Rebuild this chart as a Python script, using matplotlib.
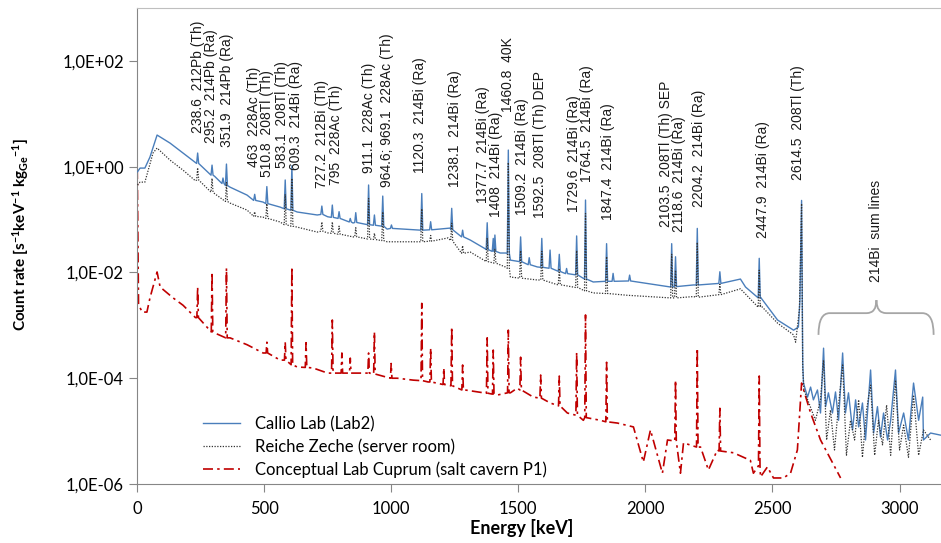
import numpy as np
import matplotlib
matplotlib.use("Agg")
import matplotlib.pyplot as plt
from matplotlib.path import Path
from matplotlib.patches import PathPatch
from matplotlib.ticker import FixedLocator, FuncFormatter, NullLocator

plt.rcParams['font.family'] = ['Lato', 'DejaVu Sans']
plt.rcParams['mathtext.fontset'] = 'custom'
plt.rcParams['mathtext.rm'] = 'Lato'
plt.rcParams['mathtext.bf'] = 'Lato:bold'
plt.rcParams['mathtext.default'] = 'bf'

# --- Callio Lab (Lab2): continuum knots [keV], count rate
callio_e = [2, 12, 31, 51, 79, 130, 181, 230, 305, 366, 433, 496, 563, 630, 709, 750,
            850, 984, 1114, 1232, 1244, 1311, 1370, 1429, 1450, 1469, 1575, 1670, 1795,
            1929, 2098, 2189, 2374, 2394, 2453, 2520, 2583, 2602, 2608, 2614.5, 2619,
            2622, 2638, 2650, 2661, 2677, 2689, 2701, 2709, 2720, 2736, 2748, 2760, 2776,
            2787, 2799, 2815, 2827, 2839, 2854, 2866, 2886, 2898, 2913, 2925, 2937, 2953,
            2965, 2984, 2996, 3016, 3035, 3055, 3075, 3091, 3094, 3122, 3161]
callio_v = [0.8, 0.94, 0.94, 1.52, 3.96, 2.79, 1.81, 1.2, 0.66, 0.41, 0.29, 0.214, 0.172,
            0.139, 0.122, 0.113, 0.086, 0.066, 0.063, 0.069, 0.063, 0.041, 0.028, 0.0233,
            0.0233, 0.0171, 0.0127, 0.0102, 0.0066, 0.0069, 0.0053, 0.0058, 0.0075, 0.0053,
            0.0034, 0.00126, 0.00081, 0.00093, 0.003, 0.23, 0.0002, 8.1e-5, 4.4e-5, 6.8e-5,
            3.9e-5, 6.0e-5, 2.2e-5, 3.7e-4, 2.9e-5, 5.3e-5, 2.2e-5, 5.5e-5, 1.6e-5, 3.0e-4,
            2.2e-5, 5.3e-5, 1.05e-5, 3.9e-5, 1.2e-5, 3.4e-5, 6.8e-6, 1.43e-4, 9.2e-6, 2.9e-5,
            7.7e-6, 2.2e-5, 6.8e-6, 1.6e-5, 1.43e-4, 9.2e-6, 2.2e-5, 6.8e-6, 8.1e-5, 1.6e-5,
            4.4e-5, 6.8e-6, 9.2e-6, 8.4e-6]
# peaks: energy, top, base
callio_pk_e = [238.6, 295.2, 338.3, 351.9, 463, 510.8, 583.1, 609.3, 727.2, 768.4, 795,
               839, 860.6, 911.1, 934, 966.8, 1001, 1120.3, 1155.2, 1238.1, 1281, 1377.7,
               1401.5, 1408, 1460.8, 1509.2, 1543, 1592.5, 1625, 1661.3, 1690, 1729.6,
               1764.5, 1847.4, 1873, 1938, 2103.5, 2118.6, 2204.2, 2293, 2447.9]
callio_pk_top = [1.81, 1.07, 0.61, 1.12, 0.30, 0.42, 0.56, 1.04, 0.18, 0.188, 0.141,
                 0.105, 0.135, 0.45, 0.122, 0.278, 0.079, 0.31, 0.091, 0.163, 0.063, 0.087,
                 0.044, 0.051, 2.06, 0.047, 0.019, 0.044, 0.0265, 0.022, 0.0119, 0.049,
                 0.234, 0.035, 0.0096, 0.0089, 0.035, 0.0198, 0.068, 0.0103, 0.0185]
callio_pk_base = [1.15, 0.69, 0.48, 0.44, 0.23, 0.20, 0.16, 0.15, 0.125, 0.11, 0.105,
                  0.09, 0.088, 0.08, 0.078, 0.075, 0.068, 0.063, 0.064, 0.065, 0.047,
                  0.027, 0.025, 0.025, 0.023, 0.016, 0.014, 0.0125, 0.012, 0.0105, 0.0095,
                  0.009, 0.0075, 0.0068, 0.0068, 0.0069, 0.0053, 0.0054, 0.0058, 0.0062,
                  0.0033]

# --- Reiche Zeche (server room)
reiche_e = [2, 12, 31, 63, 79, 130, 181, 230, 305, 366, 433, 496, 563, 630, 709, 750,
            850, 984, 1114, 1224, 1244, 1311, 1370, 1449, 1469, 1575, 1670, 1795, 1929,
            2098, 2189, 2374, 2453, 2520, 2583, 2591, 2606, 2614.5, 2619, 2624, 2669,
            2689, 2701, 2713, 2728, 2744, 2760, 2776, 2791, 2807, 2823, 2839, 2854, 2870,
            2886, 2902, 2917, 2933, 2949, 2965, 2984, 3000, 3016, 3035, 3055, 3075, 3094,
            3122]
reiche_v = [0.45, 0.51, 0.51, 1.81, 2.25, 1.33, 0.86, 0.54, 0.31, 0.205, 0.151, 0.111,
            0.090, 0.072, 0.058, 0.056, 0.047, 0.038, 0.038, 0.045, 0.038, 0.0243, 0.0165,
            0.0127, 0.0082, 0.0072, 0.0058, 0.0041, 0.0037, 0.0033, 0.0035, 0.0049,
            0.0024, 0.0011, 0.00066, 0.00048, 0.002, 0.2, 0.00015, 6.0e-5, 1.6e-5, 3.9e-5,
            2.2e-4, 6.8e-6, 2.5e-5, 4.4e-6, 3.1e-5, 1.78e-4, 3.5e-6, 1.6e-5, 6.8e-6,
            3.9e-5, 3.2e-6, 2.5e-5, 7.4e-5, 3.5e-6, 1.6e-5, 5.5e-6, 3.1e-5, 3.5e-6, 9.2e-5,
            4.4e-6, 1.3e-5, 3.2e-6, 4.8e-5, 3.5e-6, 1.05e-5, 6.8e-6]
reiche_pk_e = [238.6, 295.2, 351.9, 463, 510.8, 583.1, 609.3, 727.2, 768.4, 795, 860.6,
               911.1, 934, 966.8, 1120.3, 1155.2, 1238.1, 1281, 1377.7, 1408, 1460.8,
               1509.2, 1592.5, 1661.3, 1729.6, 1764.5, 1847.4, 2103.5, 2118.6, 2204.2,
               2293, 2447.9]
reiche_pk_top = [0.95, 0.6, 0.5, 0.14, 0.2, 0.3, 0.6, 0.09, 0.09, 0.075, 0.07, 0.25,
                 0.055, 0.14, 0.16, 0.05, 0.085, 0.032, 0.045, 0.028, 1.2, 0.026, 0.025,
                 0.012, 0.026, 0.13, 0.02, 0.022, 0.011, 0.037, 0.006, 0.011]
reiche_pk_base = [0.56, 0.33, 0.22, 0.115, 0.105, 0.08, 0.075, 0.06, 0.055, 0.053, 0.047,
                  0.043, 0.042, 0.04, 0.038, 0.039, 0.04, 0.023, 0.016, 0.015, 0.012,
                  0.0078, 0.0072, 0.0058, 0.0052, 0.0045, 0.004, 0.0033, 0.0033, 0.0034,
                  0.0038, 0.0022]

# --- Conceptual Lab Cuprum (salt cavern P1)
cuprum_e = [1, 6, 20, 39, 51, 79, 91, 142, 181, 230, 305, 366, 433, 496, 563, 630, 693,
            750, 890, 1024, 1087, 1145, 1220, 1290, 1417, 1469, 1496, 1559, 1626, 1693,
            1756, 1823, 1890, 1953, 1992, 2020, 2067, 2087, 2138, 2150, 2217, 2248, 2283,
            2346, 2413, 2425, 2453, 2480, 2504, 2543, 2571, 2598, 2614.5, 2650, 2689, 2768]
cuprum_v = [0.9, 0.0025, 0.00178, 0.00178, 0.0033, 0.0102, 0.0053, 0.0033, 0.0024,
            0.0014, 0.00072, 0.00058, 0.00043, 0.0003, 0.00022, 0.000163, 0.000156,
            0.000125, 0.000125, 0.0001, 9.2e-5, 8.5e-5, 7.4e-5, 6.0e-5, 4.8e-5, 5.3e-5,
            6.5e-5, 4.4e-5, 3.4e-5, 2.2e-5, 1.6e-5, 1.6e-5, 1.42e-5, 1.2e-5, 2.6e-6,
            1.05e-5, 1.6e-6, 6.8e-6, 1.6e-6, 6.0e-6, 5.0e-6, 1.84e-6, 4.4e-6, 3.9e-6,
            2.8e-6, 1.6e-6, 1.36e-6, 2.1e-6, 1.3e-6, 1.3e-6, 1.6e-6, 4.4e-6, 8.1e-5,
            2.2e-5, 6.8e-6, 1.3e-6]
cuprum_pk_e = [238.6, 295.2, 351.9, 511, 583.1, 609.3, 665, 768.4, 806, 839, 911.1, 934,
               1000, 1120.3, 1155.2, 1207, 1238.1, 1281, 1377.7, 1401.5, 1460.8, 1509.2,
               1588, 1661.3, 1729.6, 1764.5, 1847.4, 2118.6, 2204.2, 2293, 2447.9]
cuprum_pk_top = [0.0053, 0.0102, 0.0121, 0.00048, 0.00048, 0.0127, 0.00047, 0.00126,
                 0.0003, 0.00024, 0.0003, 0.00075, 0.00019, 0.0026, 0.00037, 0.000156,
                 0.00093, 0.000178, 0.00058, 0.00034, 0.00081, 0.00025, 0.000115, 0.00011,
                 0.00031, 0.00157, 0.0002, 9.2e-5, 0.00037, 2.7e-5, 0.00011]
cuprum_pk_base = [0.0014, 0.00075, 0.00058, 0.0003, 0.00022, 0.00018, 0.00016, 0.000125,
                  0.000125, 0.000125, 0.000125, 0.00012, 0.0001, 9.0e-5, 8.5e-5, 7.6e-5,
                  7.2e-5, 6.0e-5, 5.2e-5, 5.0e-5, 5.3e-5, 6.0e-5, 4.2e-5, 3.0e-5, 2.0e-5,
                  1.8e-5, 1.5e-5, 6.5e-6, 5.0e-6, 4.2e-6, 2.2e-6]

# --- peak labels: text, x position [keV], bottom (axes fraction)
label_text = ["238.6  212Pb (Th)", "295.2  214Pb (Ra)", "351.9  214Pb (Ra)",
              "463  228Ac (Th)", "510.8  208Tl (Th)", "583.1  208Tl (Th)",
              "609.3  214Bi (Ra)", "727.2  212Bi (Th)", "795  228Ac (Th)",
              "911.1  228Ac (Th)", "964.6; 969.1  228Ac (Th)", "1120.3  214Bi (Ra)",
              "1238.1  214Bi (Ra)", "1377.7  214Bi (Ra)", "1408  214Bi (Ra)",
              "1460.8  40K", "1509.2  214Bi (Ra)", "1592.5  208Tl (Th) DEP",
              "1729.6  214Bi (Ra)", "1764.5  214Bi (Ra)", "1847.4  214Bi (Ra)",
              "2103.5  208Tl (Th) SEP", "2118.6  214Bi (Ra)", "2204.2  214Bi (Ra)",
              "2447.9  214Bi (Ra)", "2614.5  208Tl (Th)", "214Bi  sum lines"]
label_x = [240, 291, 354, 461, 512, 570, 625, 727, 781, 913, 984, 1114, 1252, 1360, 1413,
           1461, 1514, 1587, 1721, 1772, 1854, 2080, 2134, 2209, 2461, 2602, 2906]
label_y = [0.737, 0.716, 0.708, 0.666, 0.645, 0.664, 0.660, 0.622, 0.628, 0.653, 0.624,
           0.653, 0.624, 0.590, 0.561, 0.782, 0.565, 0.559, 0.571, 0.634, 0.555, 0.540,
           0.529, 0.582, 0.517, 0.639, 0.424]


def build(cont_e, cont_v, pk_e, pk_top, pk_base, half=4.0):
    e = list(cont_e)
    v = list(cont_v)
    for p, t, b in zip(pk_e, pk_top, pk_base):
        e += [p - half, p, p + half]
        v += [b, t, b]
    order = np.argsort(e, kind="stable")
    return np.array(e)[order], np.array(v)[order]


fig = plt.figure(figsize=(9.41, 5.43), dpi=100)
ax = fig.add_axes([137 / 941, 59 / 543, 804 / 941, 476 / 543])

x1, y1 = build(callio_e, callio_v, callio_pk_e, callio_pk_top, callio_pk_base)
x2, y2 = build(reiche_e, reiche_v, reiche_pk_e, reiche_pk_top, reiche_pk_base)
x3, y3 = build(cuprum_e, cuprum_v, cuprum_pk_e, cuprum_pk_top, cuprum_pk_base, half=3.0)

ax.plot(x1, y1, color="#4A7EBB", lw=1.0, label="Callio Lab (Lab2)", zorder=3)
ax.plot(x2, y2, color="#333333", lw=0.9, ls=(0, (1, 1.2)),
        label="Reiche Zeche (server room)", zorder=4)
ax.plot(x3, y3, color="#C00000", lw=1.2, ls=(0, (6, 2.5, 1.5, 2.5)),
        label="Conceptual Lab Cuprum (salt cavern P1)", zorder=2)

ax.set_yscale("log")
ax.set_xlim(0, 3163)
ax.set_ylim(1e-6, 1e3)
ax.yaxis.set_major_locator(FixedLocator([1e-6, 1e-4, 1e-2, 1e0, 1e2]))
ax.yaxis.set_minor_locator(NullLocator())
ax.yaxis.set_major_formatter(
    FuncFormatter(lambda v, p: "1,0E{:+03d}".format(int(round(np.log10(v))))))
ax.set_xticks([0, 500, 1000, 1500, 2000, 2500, 3000])

for s in ["left", "bottom"]:
    ax.spines[s].set_color("#868686")
ax.spines["top"].set_color("#BFBFBF")
ax.spines["right"].set_visible(False)
ax.tick_params(axis="both", direction="out", length=6, color="#868686",
               labelsize=12, labelcolor="black")
ax.tick_params(axis="x", pad=6)

ax.set_xlabel("Energy [keV]", fontsize=13, fontweight="bold")
ax.xaxis.set_label_coords(0.479, -0.074)
ax.set_ylabel(r"Count rate [s$^{-1}$keV$^{-1}$ kg$_{Ge}$$^{-1}$]", fontsize=11,
              fontweight="bold")
ax.yaxis.set_label_coords(-0.132, 0.525)

for t, xe, yf in zip(label_text, label_x, label_y):
    ax.text(xe, yf, t, transform=ax.get_xaxis_transform(), rotation=90,
            ha="center", va="bottom", fontsize=10, family="Liberation Sans",
            color="#1a1a1a")

# brace over the sum lines
bv = [(2681, 6.6e-4), (2681, 1.7e-3), (2725, 1.7e-3), (2870, 1.7e-3),
      (2909, 1.7e-3), (2909, 3.0e-3), (2909, 1.7e-3), (2948, 1.7e-3),
      (3090, 1.7e-3), (3134, 1.7e-3), (3134, 6.6e-4)]
bc = [Path.MOVETO, Path.CURVE3, Path.CURVE3, Path.LINETO, Path.CURVE3, Path.CURVE3,
      Path.CURVE3, Path.CURVE3, Path.LINETO, Path.CURVE3, Path.CURVE3]
ax.add_patch(PathPatch(Path(bv, bc), facecolor="none", edgecolor="#A6A6A6", lw=1.3))

ax.legend(loc="upper left", bbox_to_anchor=(0.072, 0.16), frameon=False, fontsize=12,
          handlelength=2.2, handletextpad=0.9, borderpad=0, labelspacing=0.4)

fig.savefig("out.png", dpi=100)
